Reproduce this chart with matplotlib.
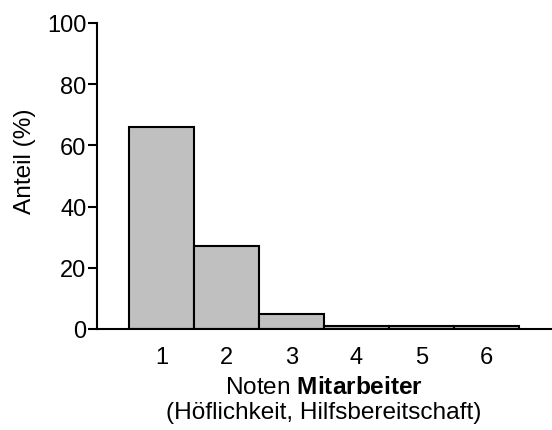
import numpy as np
import matplotlib
matplotlib.use("Agg")
import matplotlib.pyplot as plt

# Werte
noten = [1, 2, 3, 4, 5, 6]
anteil = [66, 27, 5, 1, 1, 1]
y_ticks = [0, 20, 40, 60, 80, 100]

plt.rcParams['font.family'] = ['Liberation Sans', 'DejaVu Sans']
plt.rcParams['mathtext.fontset'] = 'custom'
plt.rcParams['mathtext.rm'] = 'Liberation Sans'
plt.rcParams['mathtext.bf'] = 'Liberation Sans:bold'

fig = plt.figure(figsize=(5.52, 4.31), dpi=100)
ax = fig.add_axes([97 / 552, 101 / 431, 454 / 552, 306 / 431])

ax.bar(noten, anteil, width=1.0, color='#c0c0c0', edgecolor='black', linewidth=1.5)

ax.set_xlim(0, 7)
ax.set_ylim(0, 100)
ax.set_xticks(noten)
ax.set_yticks(y_ticks)

for side in ['top', 'right']:
    ax.spines[side].set_visible(False)
for side in ['left', 'bottom']:
    ax.spines[side].set_linewidth(1.5)

ax.tick_params(axis='y', length=6.5, width=1.5, labelsize=17, pad=1)
ax.tick_params(axis='x', length=0, labelsize=17, pad=12)

ax.set_ylabel('Anteil (%)', fontsize=17.6)
ax.yaxis.set_label_coords(-0.135, 0.55)
ax.set_xlabel('Noten $\\mathbf{Mitarbeiter}$\n(Höflichkeit, Hilfsbereitschaft)',
              fontsize=17.6, labelpad=6, linespacing=1.15)

fig.savefig('out.png', dpi=100)
